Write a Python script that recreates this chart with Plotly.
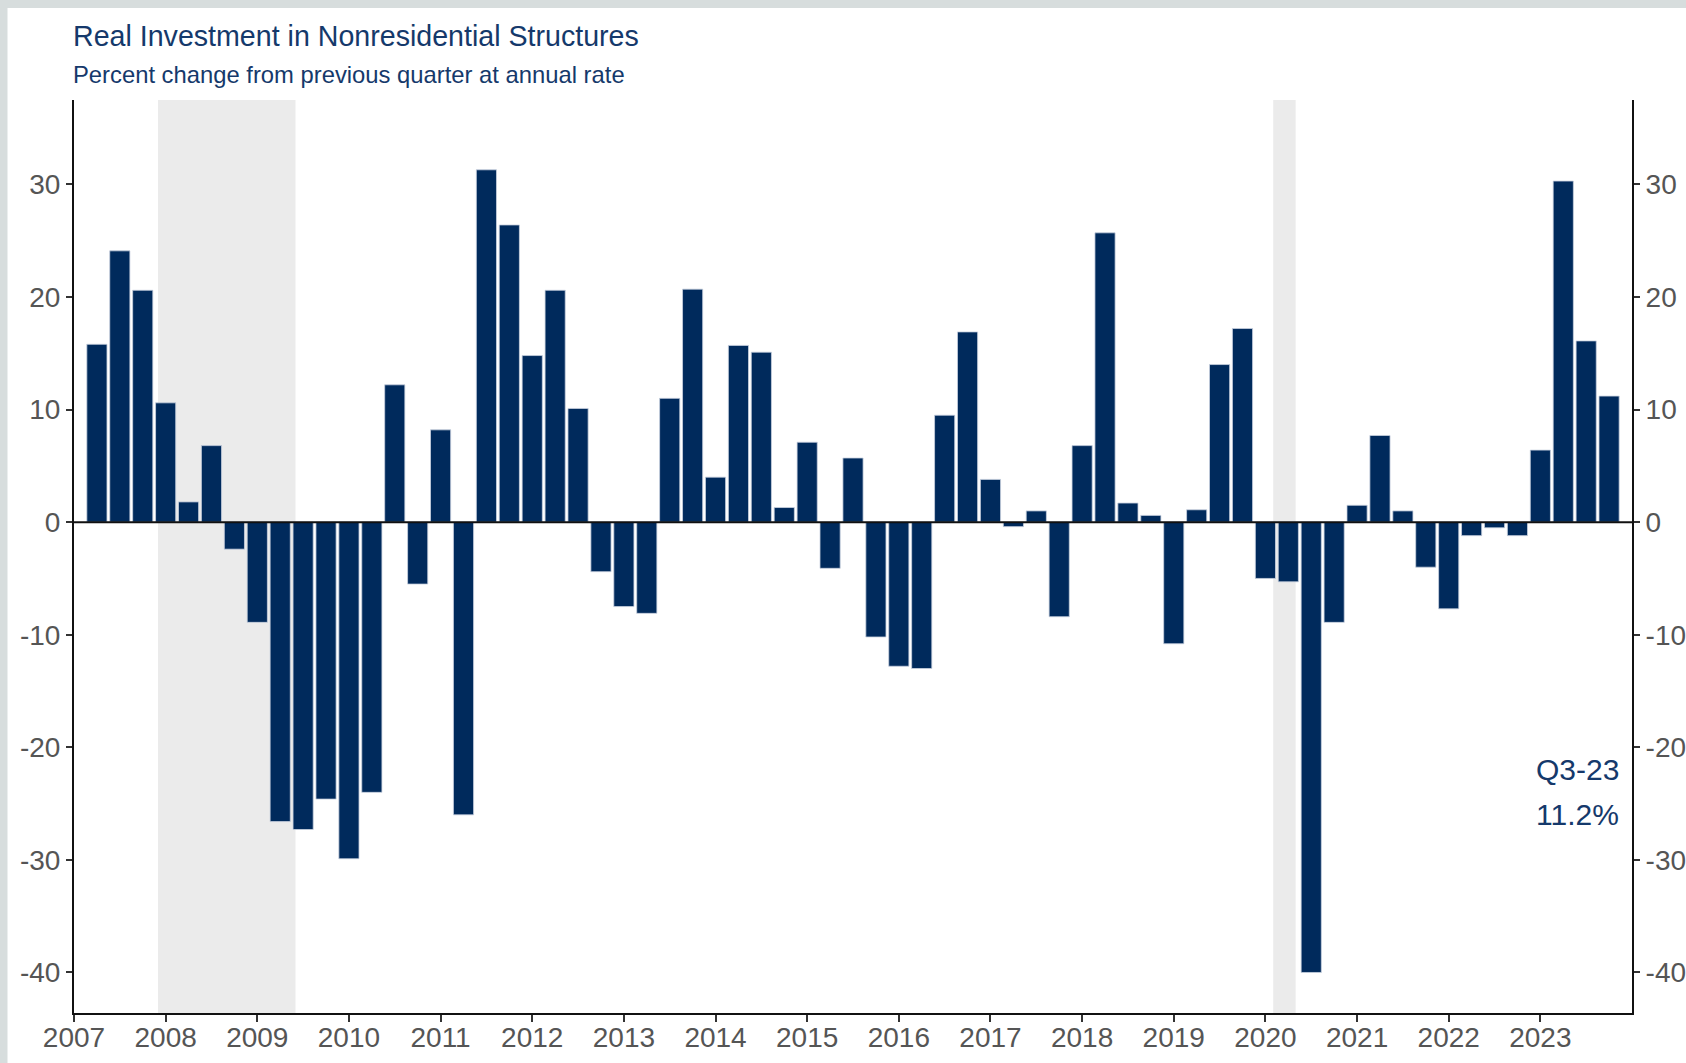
import plotly.graph_objects as go

# ---------------- data ----------------
title_text = "Real Investment in Nonresidential Structures"
subtitle_text = "Percent change from previous quarter at annual rate"

first_year = 2007
tick_years = list(range(2007, 2024))
tick_labels = [str(y) for y in tick_years]

# quarterly % change, 2007Q1 ... 2023Q3
growth = [
    15.8, 24.1, 20.6, 10.6,      # 2007
    1.8, 6.8, -2.4, -8.9,        # 2008
    -26.6, -27.3, -24.6, -29.9,  # 2009
    -24.0, 12.2, -5.5, 8.2,      # 2010
    -26.0, 31.3, 26.4, 14.8,     # 2011
    20.6, 10.1, -4.4, -7.5,      # 2012
    -8.1, 11.0, 20.7, 4.0,       # 2013
    15.7, 15.1, 1.3, 7.1,        # 2014
    -4.1, 5.7, -10.2, -12.8,     # 2015
    -13.0, 9.5, 16.9, 3.8,       # 2016
    -0.4, 1.0, -8.4, 6.8,        # 2017
    25.7, 1.7, 0.6, -10.8,       # 2018
    1.1, 14.0, 17.2, -5.0,       # 2019
    -5.3, -40.0, -8.9, 1.5,      # 2020
    7.7, 1.0, -4.0, -7.7,        # 2021
    -1.2, -0.5, -1.2, 6.4,       # 2022
    30.3, 16.1, 11.2,            # 2023
]

y_ticks = [-40, -30, -20, -10, 0, 10, 20, 30]
y_tick_labels = [str(v) for v in y_ticks]

# recessions (decimal years)
recession_start = [2007.917, 2020.085]
recession_end = [2009.417, 2020.33]

# ---------------- derived ----------------
periods = [(y, q) for y in range(first_year, 2024) for q in range(1, 5)][:len(growth)]
x_pos = [y + q / 4 for y, q in periods]
last_y, last_q = periods[-1]
last_label = f"Q{last_q}-{str(last_y)[2:]}"
last_value = f"{growth[-1]:.1f}%"

NAVY = "#002a5c"
TEXT_NAVY = "#15396b"
TICK_GRAY = "#555555"
FRAME_GRAY = "#d7dddd"
FONT = "Liberation Sans, Arial, sans-serif"

W, H = 1686, 1063
# target plot box on screen
PL, PR, PT, PB = 73.5, 1631.7, 100, 1013.5
L, T = PL, PT
R = W - PR
B = H - PB


def px_x(sx):
    return (sx - PL) / (PR - PL)


def px_y(sy):
    return (PB - sy) / (PB - PT)


fig = go.Figure()
fig.add_trace(go.Bar(
    x=x_pos, y=growth, width=0.22,
    marker=dict(color=NAVY, line=dict(color="#c9d2df", width=0.8)),
    showlegend=False, hoverinfo="x+y",
))
# invisible companion so the right-hand axis is drawn
fig.add_trace(go.Scatter(
    x=x_pos, y=growth, yaxis="y2", mode="markers",
    marker=dict(opacity=0, size=1), hoverinfo="skip", showlegend=False,
))

shapes = [
    # gray page frame at top and left
    dict(type="rect", xref="paper", yref="paper", x0=-0.2, x1=1.2, y0=px_y(8), y1=1.3,
         fillcolor=FRAME_GRAY, line=dict(width=0), layer="below"),
    dict(type="rect", xref="paper", yref="paper", x0=-0.2, x1=px_x(7), y0=-0.2, y1=1.3,
         fillcolor=FRAME_GRAY, line=dict(width=0), layer="below"),
]
for s, e in zip(recession_start, recession_end):
    shapes.append(dict(type="rect", xref="x", yref="paper", x0=s, x1=e, y0=0, y1=1,
                       fillcolor="#ebebeb", line=dict(width=0), layer="below"))
# zero reference line on top of bars
shapes.append(dict(type="line", xref="paper", yref="y", x0=0, x1=1, y0=0, y1=0,
                   line=dict(color="#111111", width=2), layer="above"))

axis_common = dict(
    showgrid=False, zeroline=False, showline=True, linecolor="#111111", linewidth=2,
    ticks="outside", tickwidth=1.5, tickcolor="#333333", automargin=False,
    tickfont=dict(family=FONT, size=28, color=TICK_GRAY),
)

fig.update_layout(
    width=W, height=H, autosize=False,
    margin=dict(l=L, r=R, t=T, b=B, pad=0, autoexpand=False),
    paper_bgcolor="white", plot_bgcolor="white",
    shapes=shapes,
    xaxis=dict(range=[2007, 2024], tickmode="array", tickvals=tick_years, ticktext=tick_labels,
               ticklen=7, ticklabelstandoff=-9, **axis_common),
    yaxis=dict(range=[-43.6, 37.5], tickmode="array", tickvals=y_ticks, ticktext=y_tick_labels,
               ticklen=6, **axis_common),
    yaxis2=dict(range=[-43.6, 37.5], tickmode="array", tickvals=y_ticks, ticktext=y_tick_labels,
                ticklen=6, overlaying="y", side="right", **axis_common),
    annotations=[
        dict(text=title_text, xref="paper", yref="paper", x=px_x(70), y=px_y(35.5),
             xanchor="left", yanchor="middle", showarrow=False,
             font=dict(family=FONT, size=28.6, color=TEXT_NAVY)),
        dict(text=subtitle_text, xref="paper", yref="paper", x=px_x(70), y=px_y(74),
             xanchor="left", yanchor="middle", showarrow=False,
             font=dict(family=FONT, size=23.8, color=TEXT_NAVY)),
        dict(text=last_label, xref="paper", yref="paper", x=px_x(1621), y=px_y(770),
             xanchor="right", yanchor="middle", showarrow=False,
             font=dict(family=FONT, size=30, color=TEXT_NAVY)),
        dict(text=last_value, xref="paper", yref="paper", x=px_x(1621), y=px_y(815),
             xanchor="right", yanchor="middle", showarrow=False,
             font=dict(family=FONT, size=30, color=TEXT_NAVY)),
    ],
)

fig.write_html(
    "out.html",
    config={"responsive": False, "displayModeBar": False},
    post_script="document.body.style.margin = '0'; document.body.style.overflow = 'hidden';",
)
